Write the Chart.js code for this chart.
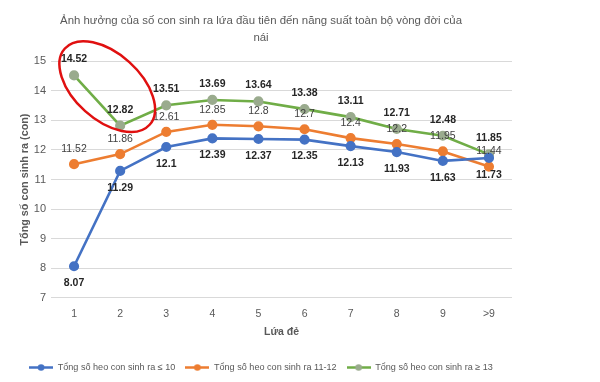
<!DOCTYPE html>
<html>
<head>
<meta charset="utf-8">
<script src="https://cdn.jsdelivr.net/npm/chart.js@4.4.1/dist/chart.umd.min.js"></script>
<style>
  html, body { margin: 0; padding: 0; background: #ffffff; }
  #wrap { width: 600px; height: 382px; }
</style>
</head>
<body>
<div id="wrap"><canvas id="c" width="600" height="382"></canvas></div>
<script>
const categories = ['1', '2', '3', '4', '5', '6', '7', '8', '9', '>9'];
const seriesLow  = [8.07, 11.29, 12.1, 12.39, 12.37, 12.35, 12.13, 11.93, 11.63, 11.73];
const seriesMid  = [11.52, 11.86, 12.61, 12.85, 12.8, 12.7, 12.4, 12.2, 11.95, 11.44];
const seriesHigh = [14.52, 12.82, 13.51, 13.69, 13.64, 13.38, 13.11, 12.71, 12.48, 11.85];
const seriesNames = [
  'Tổng số heo con sinh ra ≤ 10',
  'Tổng số heo con sinh ra 11-12',
  'Tổng số heo con sinh ra ≥ 13'
];
const chartTitle = ['Ảnh hưởng của số con sinh ra lứa đầu tiên đến năng suất toàn bộ vòng đời của', 'nái'];
const yAxisTitle = 'Tổng số con sinh ra (con)';
const xAxisTitle = 'Lứa đẻ';
const yMin = 7, yMax = 15, yStep = 1;

const FONT = "'Liberation Sans', Arial, sans-serif";

function legendIcon(lineColor, pointColor) {
  const c = document.createElement('canvas');
  c.width = 24; c.height = 9;
  const g = c.getContext('2d');
  g.strokeStyle = lineColor; g.lineWidth = 2.5;
  g.beginPath(); g.moveTo(0, 4.5); g.lineTo(24, 4.5); g.stroke();
  g.fillStyle = pointColor;
  g.beginPath(); g.arc(12, 4.5, 3.3, 0, Math.PI * 2); g.fill();
  return c;
}

const styles = [
  { line: '#4472C4', point: '#4472C4', dy: 17, font: 'bold 10.5px ' + FONT, color: '#262626' },
  { line: '#ED7D31', point: '#ED7D31', dy: -15, font: '10.5px ' + FONT, color: '#404040' },
  { line: '#70AD47', point: '#9AAB8E', dy: -16, font: 'bold 10.5px ' + FONT, color: '#262626' }
];
const seriesData = [seriesLow, seriesMid, seriesHigh];

const labelPlugin = {
  id: 'pointLabels',
  afterDatasetsDraw(chart) {
    const ctx = chart.ctx;
    ctx.save();
    ctx.textAlign = 'center';
    ctx.textBaseline = 'middle';
    chart.data.datasets.forEach((ds, i) => {
      const meta = chart.getDatasetMeta(i);
      const st = styles[i];
      ctx.font = st.font;
      ctx.fillStyle = st.color;
      meta.data.forEach((pt, j) => {
        ctx.fillText(String(ds.data[j]), pt.x, pt.y + st.dy);
      });
    });
    ctx.restore();
  }
};

const ellipsePlugin = {
  id: 'highlightEllipse',
  afterDatasetsDraw(chart) {
    const xs = chart.scales.x, ys = chart.scales.y;
    const cx = xs.getPixelForValue(0.72);
    const cy = ys.getPixelForValue(14.14);
    const ctx = chart.ctx;
    ctx.save();
    ctx.strokeStyle = '#E01010';
    ctx.lineWidth = 2.5;
    ctx.beginPath();
    ctx.ellipse(cx, cy, 57, 33, 42 * Math.PI / 180, 0, Math.PI * 2);
    ctx.stroke();
    ctx.restore();
  }
};

new Chart(document.getElementById('c'), {
  type: 'line',
  data: {
    labels: categories,
    datasets: seriesData.map((d, i) => ({
      label: seriesNames[i],
      data: d,
      borderColor: styles[i].line,
      backgroundColor: styles[i].point,
      pointBackgroundColor: styles[i].point,
      pointBorderColor: styles[i].point,
      pointRadius: 3.8,
      pointHoverRadius: 3.8,
      borderWidth: 2.6,
      tension: 0,
      fill: false
    }))
  },
  options: {
    responsive: false,
    animation: false,
    devicePixelRatio: 1,
    layout: { padding: { left: 0, right: 78, top: 0, bottom: 0 } },
    plugins: {
      title: {
        display: true,
        text: chartTitle,
        color: '#595959',
        font: { family: FONT, size: 11.4, weight: 'normal', lineHeight: 1.5 },
        padding: { top: 12, bottom: 15 }
      },
      legend: {
        display: true,
        position: 'bottom',
        labels: {
          usePointStyle: true,
          pointStyleWidth: 24,
          boxHeight: 9,
          padding: 10,
          color: '#595959',
          font: { family: FONT, size: 9.1 },
          generateLabels(chart) {
            return chart.data.datasets.map((ds, i) => ({
              text: ds.label,
              pointStyle: legendIcon(styles[i].line, styles[i].point),
              fillStyle: styles[i].line,
              strokeStyle: styles[i].line,
              lineWidth: 0,
              fontColor: '#595959',
              hidden: false,
              datasetIndex: i
            }));
          }
        }
      },
      tooltip: { enabled: false }
    },
    scales: {
      x: {
        offset: true,
        grid: { display: false, drawTicks: false },
        border: { display: false },
        ticks: { color: '#595959', font: { family: FONT, size: 10.5 }, padding: 10 },
        title: {
          display: true, text: xAxisTitle, color: '#595959',
          font: { family: FONT, size: 10.5, weight: 'bold' },
          padding: { top: 14, bottom: 14 }
        },
        afterFit(s) { s.height = 55; }
      },
      y: {
        min: yMin, max: yMax,
        grid: { color: '#D9D9D9', lineWidth: 1, drawTicks: false },
        border: { display: false },
        ticks: { stepSize: yStep, color: '#595959', font: { family: FONT, size: 11 }, padding: 5 },
        title: {
          display: true, text: yAxisTitle, color: '#595959',
          font: { family: FONT, size: 10.8, weight: 'bold' },
          padding: { top: 19, bottom: 19 }
        },
        afterFit(s) { s.width = 51; }
      },
      y2: {
        position: 'right',
        display: true,
        grid: { display: false, drawTicks: false },
        border: { display: false },
        ticks: { display: false },
        afterFit(s) { s.width = 10; }
      }
    }
  },
  plugins: [labelPlugin, ellipsePlugin]
});
</script>
</body>
</html>
